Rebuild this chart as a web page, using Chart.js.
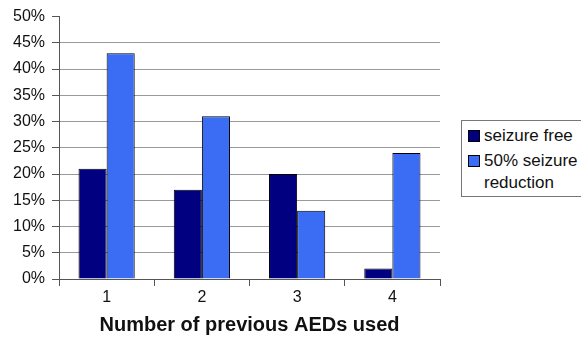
<!DOCTYPE html>
<html>
<head>
<meta charset="utf-8">
<script src="https://cdn.jsdelivr.net/npm/chart.js@4/dist/chart.umd.min.js"></script>
<style>
  html, body { margin: 0; padding: 0; background: #fff; }
  #wrap { position: relative; width: 581px; height: 338px; overflow: hidden; }
  #legend {
    position: absolute; left: 461px; top: 120px; width: 140px; height: 77px;
    box-sizing: border-box; border: 1px solid #777; background: #fff;
    font-family: "Liberation Sans", Arial, sans-serif; font-size: 17px; color: #111;
    padding: 4px 0 0 6px; line-height: 22px;
  }
  #legend .item { display: flex; align-items: flex-start; margin-bottom: 3px; }
  #legend .sw { width: 10px; height: 10px; border: 1px solid #000; margin: 5px 4px 0 0; flex: none; }
  #legend .txt { width: 100px; }
</style>
</head>
<body>
<div id="wrap">
  <canvas id="c" width="581" height="338"></canvas>
  <div id="legend"></div>
</div>
<script>
// Outcome by number of previously used antiepileptic drugs
const categories = ['1', '2', '3', '4'];
const seizureFree = [21, 17, 20, 2];
const seizureReduction50 = [43, 31, 13, 24];
const seriesNames = ['seizure free', '50% seizure reduction'];
const seriesColors = ['#000080', '#3a6cf4'];
const yTicks = [0, 5, 10, 15, 20, 25, 30, 35, 40, 45, 50];

const font = "'Liberation Sans', Arial, sans-serif";

const chart = new Chart(document.getElementById('c'), {
  type: 'bar',
  data: {
    labels: categories,
    datasets: [
      { label: seriesNames[0], data: seizureFree, backgroundColor: seriesColors[0], borderColor: '#000', borderWidth: 1 },
      { label: seriesNames[1], data: seizureReduction50, backgroundColor: seriesColors[1], borderColor: '#000', borderWidth: 1 }
    ]
  },
  options: {
    responsive: false,
    animation: false,
    devicePixelRatio: 1,
    layout: { padding: { top: 16, right: 141, left: 0, bottom: 0 } },
    datasets: { bar: { categoryPercentage: 0.59, barPercentage: 1.0 } },
    plugins: { legend: { display: false }, tooltip: { enabled: false } },
    scales: {
      x: {
        grid: { offset: true, drawOnChartArea: false, tickLength: 7, color: '#555', lineWidth: 1 },
        border: { color: '#555', width: 1 },
        ticks: { color: '#111', font: { family: font, size: 16 }, padding: 2 },
        title: { display: true, text: 'Number of previous AEDs used', color: '#111',
                 font: { family: font, size: 20, weight: 'bold' }, padding: { top: 4, bottom: 1 } },
        afterFit(scale) { scale.height = 59; }
      },
      y: {
        min: 0, max: 50,
        afterBuildTicks(scale) { scale.ticks = yTicks.map(v => ({ value: v })); },
        grid: {
          color: ctx => (ctx.tick && ctx.tick.value === 50) ? 'rgba(0,0,0,0)' : '#999',
          tickColor: '#555', tickLength: 7, lineWidth: 1
        },
        border: { color: '#555', width: 1 },
        ticks: { color: '#111', font: { family: font, size: 16 }, padding: 7,
                 callback: v => v + '%' },
        afterFit(scale) { scale.width = 59; }
      }
    }
  }
});

// Legend built from the chart's datasets
const legend = document.getElementById('legend');
chart.data.datasets.forEach(ds => {
  const item = document.createElement('div');
  item.className = 'item';
  const sw = document.createElement('span');
  sw.className = 'sw';
  sw.style.background = ds.backgroundColor;
  const txt = document.createElement('span');
  txt.className = 'txt';
  txt.textContent = ds.label;
  item.appendChild(sw);
  item.appendChild(txt);
  legend.appendChild(item);
});
</script>
</body>
</html>
